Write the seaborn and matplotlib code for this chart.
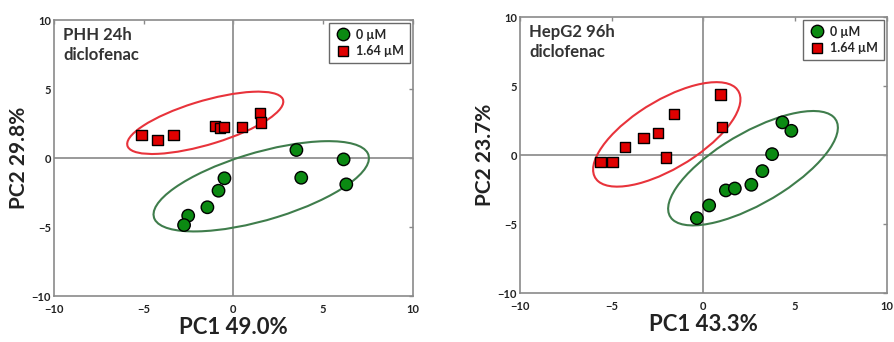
import numpy as np
import pandas as pd
import matplotlib
matplotlib.use("Agg")
import matplotlib.pyplot as plt
from matplotlib.patches import Ellipse
import seaborn as sns

# PCA scores
phh_ctrl_x = [3.51, 6.14, 3.78, 6.29, -0.50, -0.83, -1.45, -2.52, -2.75]
phh_ctrl_y = [0.58, -0.10, -1.43, -1.91, -1.47, -2.37, -3.57, -4.18, -4.86]
phh_dic_x = [-5.12, -4.23, -3.34, -1.04, -0.76, -0.54, 0.46, 1.50, 1.54]
phh_dic_y = [1.67, 1.30, 1.69, 2.34, 2.15, 2.25, 2.27, 3.24, 2.58]

hep_ctrl_x = [-0.36, 0.31, 1.22, 1.71, 2.61, 3.21, 3.74, 4.30, 4.79]
hep_ctrl_y = [-4.57, -3.65, -2.56, -2.42, -2.15, -1.16, 0.07, 2.37, 1.76]
hep_dic_x = [-5.61, -4.95, -4.26, -3.27, -2.49, -2.05, -1.62, 0.93, 1.02]
hep_dic_y = [-0.48, -0.48, 0.60, 1.26, 1.59, -0.17, 2.97, 4.40, 2.03]

groups = ["0 \u00b5M", "1.64 \u00b5M"]

# group ellipses: (cx, cy, width, height, angle)
phh_ellipses = [(1.55, -2.05, 12.8, 4.8, 22.0), (-1.57, 2.55, 9.3, 3.1, 22.0)]
hep_ellipses = [(2.7, -0.95, 11.5, 4.7, 40.6), (-2.0, 1.5, 10.1, 4.45, 42.5)]

panels = [
    ("PHH 24h\ndiclofenac", "PC1 49.0%", "PC2 29.8%",
     phh_ctrl_x, phh_ctrl_y, phh_dic_x, phh_dic_y, phh_ellipses),
    ("HepG2 96h\ndiclofenac", "PC1 43.3%", "PC2 23.7%",
     hep_ctrl_x, hep_ctrl_y, hep_dic_x, hep_dic_y, hep_ellipses),
]

sns.set_style("white")
plt.rcParams["font.family"] = ["Lato", "DejaVu Sans"]

point_colors = {groups[0]: "#0b8a12", groups[1]: "#e00000"}
point_sizes = {groups[0]: 80, groups[1]: 55}
ell_colors = ["#3f7d4c", "#e8333b"]
spine_col = "#8a8a8a"

fig = plt.figure(figsize=(8.95, 3.42), dpi=100)
rects = [[0.0603, 0.1345, 0.401, 0.807], [0.581, 0.143, 0.410, 0.807]]

for rect, (title, xlab, ylab, cx, cy, dx, dy, ells) in zip(rects, panels):
    ax = fig.add_axes(rect)
    df = pd.DataFrame({
        "PC1": cx + dx,
        "PC2": cy + dy,
        "group": [groups[0]] * len(cx) + [groups[1]] * len(dx),
    })
    ax.axhline(0, color="#999999", lw=1.4, zorder=1)
    ax.axvline(0, color="#999999", lw=1.4, zorder=1)
    for (ex, ey, w, h, ang), col in zip(ells, ell_colors):
        ax.add_patch(Ellipse((ex, ey), w, h, angle=ang, fill=False,
                             edgecolor=col, lw=1.5, zorder=2))
    sns.scatterplot(data=df, x="PC1", y="PC2", hue="group", style="group",
                    size="group", sizes=point_sizes,
                    palette=point_colors, markers={groups[0]: "o", groups[1]: "s"},
                    edgecolor="black", linewidth=1.0, zorder=3, ax=ax)
    ax.set_xlim(-10, 10)
    ax.set_ylim(-10, 10)
    ax.set_xticks([-10, -5, 0, 5, 10])
    ax.set_yticks([-10, -5, 0, 5, 10])
    ax.tick_params(direction="in", length=3, width=1, colors=spine_col,
                   labelcolor="#222222", labelsize=8, top=True, right=True, pad=2)
    ax.tick_params(axis="x", pad=6)
    for lbl in ax.get_xticklabels() + ax.get_yticklabels():
        lbl.set_fontweight("bold")
    for sp in ax.spines.values():
        sp.set_color(spine_col)
        sp.set_linewidth(1.2)
    ax.set_xlabel(xlab, fontsize=16, fontweight="bold", color="#222222", labelpad=1)
    ax.set_ylabel(ylab, fontsize=15, fontweight="bold", color="#222222", labelpad=2)
    ax.text(0.025, 0.975, title, transform=ax.transAxes, ha="left", va="top",
            fontsize=12, fontweight="bold", color="#333333", linespacing=1.3)
    handles, labels = ax.get_legend_handles_labels()
    leg = ax.legend(handles, labels, loc="upper right", frameon=True, fancybox=False,
                    fontsize=9, borderpad=0.45, handletextpad=0.4,
                    handlelength=1.3, borderaxespad=0.25, labelspacing=0.35)
    leg.get_frame().set_edgecolor("#444444")
    leg.get_frame().set_linewidth(1.0)
    for t in leg.get_texts():
        t.set_fontweight("bold")

fig.savefig("out.png", dpi=100)
